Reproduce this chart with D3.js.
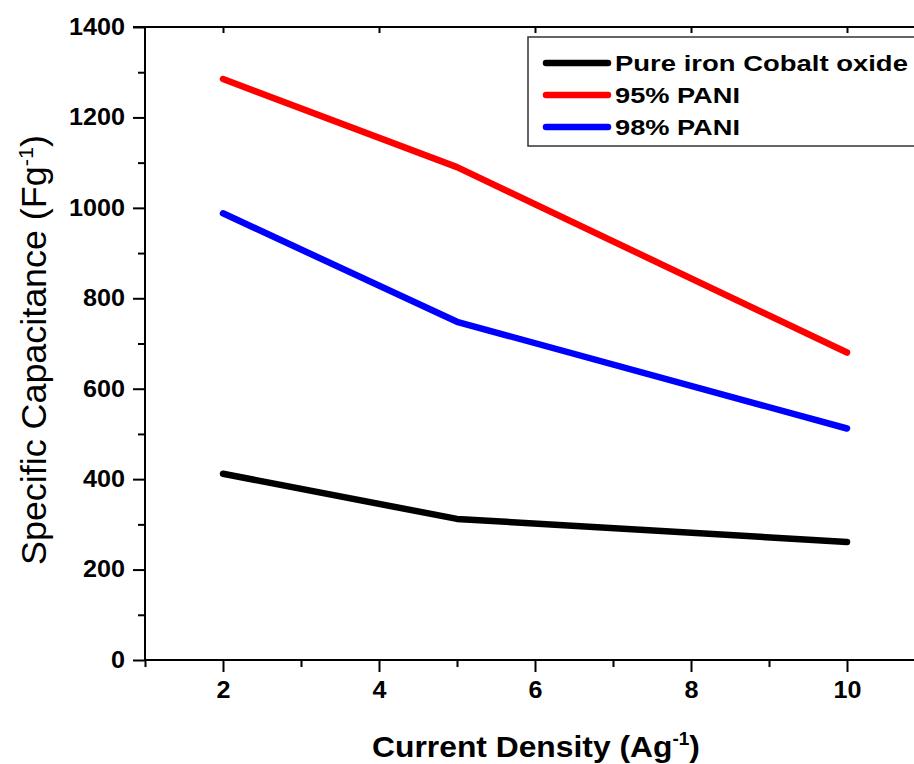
<!DOCTYPE html>
<html>
<head>
<meta charset="utf-8">
<script src="https://cdn.jsdelivr.net/npm/d3@7"></script>
<style>
  html, body { margin: 0; padding: 0; background: #fff; }
  svg { display: block; font-family: "Liberation Sans", Arial, sans-serif; }
</style>
</head>
<body>
<svg id="chart" width="914" height="764"></svg>
<script>
// ---- data ----
const currentDensity = [2, 5, 10];
const pureIronCobaltOxide = [412, 312, 261];
const pani95 = [1285, 1090, 680];
const pani98 = [988, 748, 512];
const seriesNames = ["Pure iron Cobalt oxide", "95% PANI", "98% PANI"];
const seriesColors = ["#000000", "#ff0000", "#0000ff"];
const xTickValues = [2, 4, 6, 8, 10];
const yTickValues = [0, 200, 400, 600, 800, 1000, 1200, 1400];

const series = [pureIronCobaltOxide, pani95, pani98].map((vals, i) => ({
  name: seriesNames[i],
  color: seriesColors[i],
  points: currentDensity.map((x, j) => ({ x, y: vals[j] }))
}));

// ---- layout ----
const svg = d3.select("#chart");
const L = 145, R = 925, T = 27, B = 660;
const x = d3.scaleLinear().domain([1, 11]).range([L, R]);
const y = d3.scaleLinear().domain([0, 1400]).range([B, T]);

const yMinor = d3.range(100, 1400, 200);
const xMinor = [1, 3, 5, 7, 9, 11];

// data lines
const line = d3.line().x(d => x(d.x)).y(d => y(d.y));
svg.append("g").selectAll("path.series").data(series).join("path")
  .attr("class", "series")
  .attr("d", d => line(d.points))
  .attr("fill", "none")
  .attr("stroke", d => d.color)
  .attr("stroke-width", 6.5)
  .attr("stroke-linecap", "round")
  .attr("stroke-linejoin", "round");

// left axis
const gy = svg.append("g").attr("transform", `translate(${L},0)`)
  .call(d3.axisLeft(y).tickValues(yTickValues).tickSize(12).tickPadding(8).tickFormat(d3.format("d")));
svg.append("g").attr("transform", `translate(${L},0)`)
  .call(d3.axisLeft(y).tickValues(yMinor).tickSize(7).tickFormat(""))
  .call(s => s.select(".domain").remove());

// bottom axis
const gx = svg.append("g").attr("transform", `translate(0,${B})`)
  .call(d3.axisBottom(x).tickValues(xTickValues).tickSize(12).tickPadding(10).tickFormat(d3.format("d")));
svg.append("g").attr("transform", `translate(0,${B})`)
  .call(d3.axisBottom(x).tickValues(xMinor).tickSize(7).tickFormat(""))
  .call(s => s.select(".domain").remove());

// top axis (inward ticks at majors)
svg.append("g").attr("transform", `translate(0,${T})`)
  .call(d3.axisBottom(x).tickValues(xTickValues).tickSize(6).tickFormat(""))
  .call(s => s.select(".domain").remove());

gy.select(".domain").remove();
gx.select(".domain").remove();
svg.append("line").attr("x1", L - 12).attr("x2", R).attr("y1", T).attr("y2", T)
  .attr("stroke", "#000").attr("stroke-width", 2);
svg.append("line").attr("x1", L).attr("x2", L).attr("y1", T).attr("y2", B + 1)
  .attr("stroke", "#000").attr("stroke-width", 2);
svg.append("line").attr("x1", L - 1).attr("x2", R).attr("y1", B).attr("y2", B)
  .attr("stroke", "#000").attr("stroke-width", 2);
svg.selectAll(".tick line").attr("stroke", "#000").attr("stroke-width", 2);

// tick label style
svg.selectAll(".tick text")
  .attr("fill", "#000")
  .style("font-family", "'Liberation Sans', Arial, sans-serif")
  .style("font-weight", "bold")
  .style("font-size", "23px");
// horizontally stretched like the reference (fit width: ~14px per digit)
svg.selectAll(".tick text").each(function () {
  const el = d3.select(this);
  const w = this.getComputedTextLength();
  if (!w) return;
  const target = 14 * el.text().length;
  const sx = target / w;
  const xAttr = +el.attr("x") || 0;
  el.attr("transform", `scale(${sx},1)`).attr("x", xAttr / sx);
});
gx.selectAll(".tick text").attr("dy", "0.68em");

// axis titles
const xTitle = svg.append("text")
  .attr("text-anchor", "middle")
  .style("font-weight", "bold").style("font-size", "30px")
  .attr("fill", "#000");
xTitle.append("tspan").text("Current Density (Ag");
xTitle.append("tspan").attr("dy", -12).style("font-size", "18px").text("-1");
xTitle.append("tspan").attr("dy", 12).text(")");
{
  const w = xTitle.node().getBBox().width;
  xTitle.attr("transform", `translate(536,757) scale(${328 / w},1)`);
}

const yTitle = svg.append("text")
  .attr("text-anchor", "middle")
  .style("font-weight", "normal").style("font-size", "28px")
  .attr("fill", "#000");
yTitle.append("tspan").text("Specific Capacitance (Fg");
yTitle.append("tspan").attr("dy", -11).style("font-size", "17px").text("-1");
yTitle.append("tspan").attr("dy", 11).text(")");
{
  const w = yTitle.node().getBBox().width;
  yTitle.attr("transform", `translate(46,350) rotate(-90) scale(${430 / w},1.22)`);
}

// legend
const lg = svg.append("g");
lg.append("rect").attr("x", 528).attr("y", 37).attr("width", 420).attr("height", 109)
  .attr("fill", "#fff").attr("stroke", "#333").attr("stroke-width", 1.5);
const legendRowY = [63, 95, 127];
const legendTextW = [293, 125, 125];
series.forEach((s, i) => {
  const ly = legendRowY[i];
  lg.append("line").attr("x1", 546).attr("x2", 608).attr("y1", ly).attr("y2", ly)
    .attr("stroke", s.color).attr("stroke-width", 6.5).attr("stroke-linecap", "round");
  const t = lg.append("text").text(s.name)
    .style("font-weight", "bold").style("font-size", "22px").attr("fill", "#000");
  const w = t.node().getComputedTextLength();
  t.attr("transform", `translate(615,${ly + 8}) scale(${legendTextW[i] / w},1)`);
});
</script>
</body>
</html>
